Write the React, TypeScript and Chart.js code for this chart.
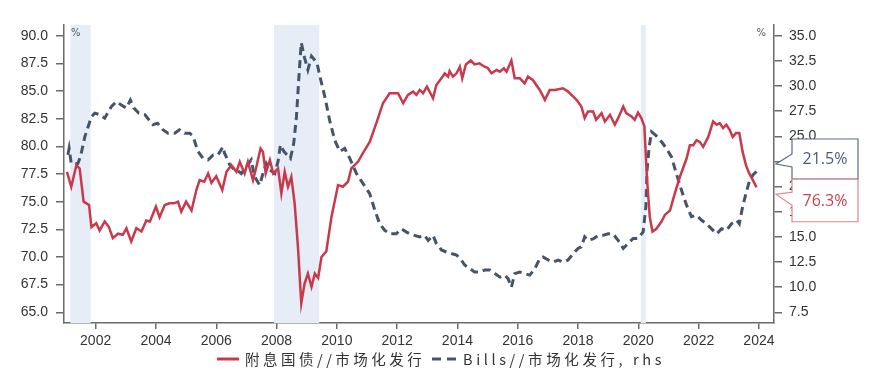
import { useEffect, useRef } from 'react';
import { Chart, registerables } from 'chart.js';

Chart.register(...registerables);

// ---- data (decimal years) ----
const redYears = [
  2001.05, 2001.19, 2001.36, 2001.47, 2001.6, 2001.78, 2001.86, 2002.02, 2002.13, 2002.3, 2002.44, 2002.57, 2002.74, 2002.9,
  2003.02, 2003.18, 2003.35, 2003.52, 2003.68, 2003.8, 2004.0, 2004.12, 2004.29, 2004.45, 2004.6, 2004.73, 2004.84,
  2005.0, 2005.18, 2005.34, 2005.45, 2005.6, 2005.73, 2005.84, 2006.0, 2006.2, 2006.34, 2006.5, 2006.67, 2006.78, 2006.94,
  2007.05, 2007.22, 2007.33, 2007.47, 2007.55, 2007.64, 2007.78, 2007.89, 2008.05, 2008.16, 2008.27, 2008.38, 2008.49,
  2008.6, 2008.71, 2008.82, 2008.93, 2009.04, 2009.16, 2009.27, 2009.38, 2009.49, 2009.65, 2009.82, 2010.04, 2010.2,
  2010.37, 2010.48, 2010.7, 2010.87, 2011.09, 2011.31, 2011.53, 2011.75, 2012.03, 2012.2, 2012.36, 2012.53, 2012.64,
  2012.75, 2012.86, 2012.99, 2013.19, 2013.3, 2013.47, 2013.58, 2013.69, 2013.74, 2013.85, 2013.97, 2014.08, 2014.16,
  2014.28, 2014.44, 2014.57, 2014.73, 2014.9, 2015.0, 2015.13, 2015.3, 2015.41, 2015.54, 2015.63, 2015.79, 2015.9,
  2016.07, 2016.23, 2016.34, 2016.5, 2016.73, 2016.9, 2017.06, 2017.23, 2017.5, 2017.67, 2017.8, 2017.95, 2018.11,
  2018.22, 2018.33, 2018.5, 2018.6, 2018.78, 2018.89, 2019.06, 2019.22, 2019.33, 2019.5, 2019.6, 2019.77, 2019.88,
  2019.99, 2020.1, 2020.2, 2020.29, 2020.38, 2020.47, 2020.6, 2020.77, 2020.88, 2021.05, 2021.21, 2021.38, 2021.6,
  2021.71, 2021.82, 2021.93, 2022.04, 2022.15, 2022.32, 2022.48, 2022.6, 2022.7, 2022.81, 2022.92, 2023.03, 2023.13,
  2023.24, 2023.35, 2023.46, 2023.57, 2023.68, 2023.8, 2023.92,
];
const redValues = [
  77.7, 76.35, 78.3, 78.0, 75.0, 74.7, 72.7, 73.05, 72.4, 73.2, 72.7, 71.7, 72.1, 72.0,
  72.6, 71.4, 72.6, 72.3, 73.3, 73.2, 74.55, 73.6, 74.7, 74.85, 74.85, 75.0, 74.1,
  75.0, 74.2, 76.05, 76.95, 76.8, 77.55, 76.7, 77.3, 76.05, 77.7, 78.3, 77.7, 78.6, 77.55,
  78.6, 76.95, 78.15, 79.8, 79.5, 77.55, 78.75, 77.55, 78.0, 75.75, 77.7, 76.35, 77.25,
  74.85, 70.9, 65.8, 67.6, 68.5, 67.3, 68.5, 68.1, 70.0, 70.5, 73.6, 76.5, 76.35,
  76.8, 78.0, 78.6, 79.4, 80.4, 82.1, 83.9, 84.8, 84.8, 83.9, 84.65, 84.95, 84.65,
  85.1, 84.8, 85.4, 84.35, 85.55, 86.15, 86.6, 86.3, 86.8, 86.3, 86.6, 87.2, 86.15,
  87.4, 87.76, 87.4, 87.5, 87.2, 87.1, 86.6, 86.9, 86.75, 87.05, 86.75, 87.76, 86.15,
  86.15, 85.7, 86.3, 86.0, 85.1, 84.2, 85.1, 85.1, 85.25, 84.95, 84.6, 84.2, 83.6,
  82.55, 83.15, 83.15, 82.4, 83.0, 82.25, 82.85, 81.95, 82.55, 83.6, 83.0, 82.7, 82.4,
  83.05, 82.55, 81.8, 76.95, 73.6, 72.3, 72.55, 73.2, 73.8, 74.2, 75.75, 77.25, 78.9,
  80.1, 80.1, 80.55, 80.4, 79.95, 80.85, 82.25, 81.95, 82.1, 81.65, 81.95, 81.5, 80.85,
  81.2, 81.2, 79.5, 78.3, 77.55, 76.95, 76.3,
];

const billYears = [
  2001.08, 2001.12, 2001.19, 2001.41, 2001.5, 2001.64, 2001.75, 2001.86, 2001.97, 2002.13, 2002.3, 2002.52, 2002.69,
  2002.85, 2003.02, 2003.15, 2003.27, 2003.43, 2003.63, 2003.9, 2004.05, 2004.23, 2004.4, 2004.62, 2004.78, 2004.95,
  2005.12, 2005.23, 2005.39, 2005.56, 2005.73, 2005.9, 2006.06, 2006.22, 2006.28, 2006.45, 2006.61, 2006.75, 2006.83,
  2007.0, 2007.16, 2007.27, 2007.44, 2007.55, 2007.66, 2007.78, 2007.94, 2008.05, 2008.13, 2008.24, 2008.35, 2008.46,
  2008.57, 2008.66, 2008.75, 2008.82, 2008.93, 2009.04, 2009.16, 2009.34, 2009.45, 2009.6, 2009.76, 2009.93, 2010.1,
  2010.26, 2010.43, 2010.65, 2010.87, 2011.09, 2011.26, 2011.42, 2011.59, 2011.75, 2011.97, 2012.14, 2012.3, 2012.42,
  2012.58, 2012.75, 2012.91, 2013.03, 2013.19, 2013.3, 2013.47, 2013.63, 2013.8, 2013.97, 2014.13, 2014.24, 2014.41,
  2014.57, 2014.73, 2014.9, 2015.07, 2015.24, 2015.41, 2015.57, 2015.68, 2015.79, 2015.9, 2016.07, 2016.23, 2016.4,
  2016.57, 2016.73, 2016.84, 2017.01, 2017.18, 2017.34, 2017.5, 2017.67, 2017.84, 2018.0, 2018.11, 2018.22, 2018.33,
  2018.5, 2018.67, 2018.83, 2019.0, 2019.16, 2019.33, 2019.5, 2019.66, 2019.83, 2019.99, 2020.16, 2020.25, 2020.29,
  2020.36, 2020.44, 2020.58, 2020.77, 2020.93, 2021.1, 2021.26, 2021.43, 2021.6, 2021.76, 2021.93, 2022.1, 2022.26,
  2022.43, 2022.6, 2022.76, 2022.92, 2023.09, 2023.26, 2023.35, 2023.46, 2023.57, 2023.68, 2023.8, 2023.92,
];
const billValues = [
  23.15, 23.8, 22.3, 22.3, 23.0, 24.95, 25.95, 26.95, 27.3, 27.15, 26.8, 27.95, 28.45,
  28.1, 27.8, 28.6, 27.8, 27.3, 27.15, 26.15, 26.3, 25.65, 25.3, 25.3, 25.65, 25.3,
  25.3, 25.0, 23.5, 22.8, 22.65, 23.15, 23.15, 23.95, 23.3, 22.15, 21.65, 21.5, 21.3,
  22.0, 22.65, 21.0, 20.15, 21.3, 22.3, 21.65, 21.3, 22.5, 24.15, 23.5, 23.15, 22.8,
  24.3, 26.95, 31.3, 34.3, 32.8, 31.6, 32.95, 32.3, 30.8, 28.95, 26.6, 24.6, 23.5,
  23.8, 22.8, 21.3, 20.3, 19.3, 17.65, 16.3, 15.65, 15.3, 15.3, 15.8, 15.5, 15.3,
  15.15, 15.0, 15.15, 14.65, 15.15, 14.35, 13.7, 13.5, 13.35, 13.2, 12.7, 12.2, 11.85,
  11.5, 11.5, 11.7, 11.7, 11.35, 11.0, 11.2, 10.85, 10.0, 11.35, 11.5, 11.35, 11.2,
  11.85, 12.85, 13.0, 12.7, 12.5, 12.7, 12.5, 12.7, 13.35, 13.85, 14.0, 15.0, 14.65,
  14.8, 15.15, 15.15, 15.3, 15.3, 14.65, 13.85, 14.35, 14.85, 14.85, 15.5, 18.0, 21.65,
  23.95, 25.45, 25.1, 24.45, 23.8, 22.95, 21.3, 19.65, 18.15, 17.0, 17.15, 16.65, 16.3,
  15.8, 15.3, 15.8, 15.65, 16.3, 16.65, 16.3, 18.0, 19.3, 20.5, 21.15, 21.5,
];

const xTickValues = [2002, 2004, 2006, 2008, 2010, 2012, 2014, 2016, 2018, 2020, 2022, 2024];
const leftTickValues = [65, 67.5, 70, 72.5, 75, 77.5, 80, 82.5, 85, 87.5, 90];
const rightTickValues = [7.5, 10, 12.5, 15, 17.5, 20, 22.5, 25, 27.5, 30, 32.5, 35];
// shaded periods [start, end] in decimal years
const bandStarts = [2001 + 2 / 12, 2007 + 11 / 12, 2020 + 1 / 12];
const bandEnds = [2001 + 10 / 12, 2009 + 5 / 12, 2020 + 3 / 12];
const seriesLabels = ['附息国债//市场化发行', 'Bills//市场化发行, rhs'];
const unitLabel = '%';

// ---- styles ----
const RED = '#C8394B';
const BLUE = '#44546A';
const AXIS = '#6b6b6b';
const TICK_COLOR = '#333333';
const BAND = '#E6EDF7';
const TICK_FONT = { family: '"Liberation Sans", Arial, sans-serif', size: 14 };

const bandsPlugin = {
  id: 'bands',
  beforeDatasetsDraw(chart: any) {
    const { ctx, chartArea } = chart;
    const xs = chart.scales.x;
    ctx.save();
    ctx.fillStyle = BAND;
    bandStarts.forEach((s, i) => {
      const x0 = xs.getPixelForValue(s);
      const x1 = xs.getPixelForValue(bandEnds[i]);
      ctx.fillRect(x0, chartArea.top, x1 - x0, chartArea.bottom - chartArea.top);
    });
    ctx.restore();
  },
};

function callout(ctx: any, left: number, right: number, top: number, bottom: number, nTop: number, tipX: number, tipY: number, nBot: number, stroke: string, textColor: string, text: string) {
  ctx.beginPath();
  ctx.moveTo(left, top);
  ctx.lineTo(right, top);
  ctx.lineTo(right, bottom);
  ctx.lineTo(left, bottom);
  ctx.lineTo(left, nBot);
  ctx.lineTo(tipX, tipY);
  ctx.lineTo(left, nTop);
  ctx.closePath();
  ctx.fillStyle = '#ffffff';
  ctx.fill();
  ctx.strokeStyle = stroke;
  ctx.lineWidth = 1.2;
  ctx.stroke();
  ctx.fillStyle = textColor;
  ctx.font = '16px "Open Sans", "DejaVu Sans", sans-serif';
  ctx.textAlign = 'center';
  ctx.textBaseline = 'middle';
  ctx.fillText(text, (left + right) / 2, (top + bottom) / 2 + 0.5);
}

const overlayPlugin = {
  id: 'overlay',
  afterDraw(chart: any) {
    const { ctx, chartArea } = chart;
    const yL = chart.scales.y;
    const yR = chart.scales.y1;
    ctx.save();

    // unit labels
    ctx.fillStyle = '#555';
    ctx.font = '10px "DejaVu Sans", sans-serif';
    ctx.textBaseline = 'middle';
    ctx.textAlign = 'left';
    ctx.fillText(unitLabel, chartArea.left + 7, chartArea.top + 8);
    ctx.textAlign = 'right';
    ctx.fillText(unitLabel, chartArea.right - 8, chartArea.top + 8);

    // callouts
    const lastRed = redValues[redValues.length - 1];
    const lastBill = billValues[billValues.length - 1];
    const left = chartArea.right + 18;
    const right = chartArea.right + 84;
    const tipX = chartArea.right + 2;
    const tb = yR.getPixelForValue(lastBill) - 7.5;
    const tr = yL.getPixelForValue(lastRed) + 7;
    callout(ctx, left, right, tb - 25, tb + 15, tb - 10, tipX, tb, tb + 3, '#5d6b87', '#4a5a78', lastBill.toFixed(1) + '%');
    callout(ctx, left, right, tr - 15, tr + 27.5, tr - 2, tipX, tr, tr + 11, '#e0848f', '#c8414f', lastRed.toFixed(1) + '%');

    // legend
    const ly = 359;
    ctx.setLineDash([]);
    ctx.strokeStyle = RED;
    ctx.lineWidth = 3;
    ctx.beginPath();
    ctx.moveTo(217, ly);
    ctx.lineTo(239, ly);
    ctx.stroke();
    ctx.strokeStyle = BLUE;
    ctx.setLineDash([9, 6]);
    ctx.beginPath();
    ctx.moveTo(432, ly);
    ctx.lineTo(457, ly);
    ctx.stroke();
    ctx.setLineDash([]);
    ctx.fillStyle = '#333';
    ctx.font = '14.5px "Noto Sans CJK SC", sans-serif';
    ctx.textAlign = 'left';
    ctx.textBaseline = 'middle';
    try { (ctx as any).letterSpacing = '3.5px'; } catch (e) {}
    ctx.fillText(seriesLabels[0], 245, ly);
    try { (ctx as any).letterSpacing = '3.6px'; } catch (e) {}
    ctx.fillText(seriesLabels[1], 463, ly);
    try { (ctx as any).letterSpacing = '0px'; } catch (e) {}
    ctx.restore();
  },
};

export default function App() {
  const ref = useRef<HTMLCanvasElement>(null);
  useEffect(() => {
    document.body.style.margin = '0';
    const axisCommon = (tickVals: number[], fmt: (v: number) => string, padding: number, tickLength: number) => ({
      afterBuildTicks: (s: any) => { s.ticks = tickVals.map((v) => ({ value: v })); },
      ticks: { callback: (v: any) => fmt(Number(v)), font: TICK_FONT, color: TICK_COLOR, padding, autoSkip: false, maxRotation: 0 },
      grid: { drawOnChartArea: false, drawTicks: true, tickLength, color: AXIS, lineWidth: 1.5 },
      border: { display: true, color: AXIS, width: 1.5 },
    });
    const chart = new Chart(ref.current as HTMLCanvasElement, {
      type: 'line',
      data: {
        datasets: [
          {
            label: seriesLabels[0],
            data: redYears.map((x, i) => ({ x, y: redValues[i] })),
            borderColor: RED,
            backgroundColor: RED,
            borderWidth: 2.5,
            pointRadius: 0,
            tension: 0,
            yAxisID: 'y',
          },
          {
            label: seriesLabels[1],
            data: billYears.map((x, i) => ({ x, y: billValues[i] })),
            borderColor: BLUE,
            backgroundColor: BLUE,
            borderWidth: 3,
            borderDash: [8, 5],
            pointRadius: 0,
            tension: 0,
            yAxisID: 'y1',
          },
        ],
      },
      options: {
        animation: false,
        responsive: false,
        layout: { padding: { top: 25, left: 0, right: 0, bottom: 0 } },
        plugins: { legend: { display: false }, tooltip: { enabled: false } },
        scales: {
          x: {
            type: 'linear',
            min: 2000.95,
            max: 2024.5,
            afterFit: (s: any) => { s.height = 62; },
            ...axisCommon(xTickValues, (v) => String(v), 4, 6),
          },
          y: {
            type: 'linear',
            position: 'left',
            min: 64.03,
            max: 90.97,
            afterFit: (s: any) => { s.width = 64; },
            ...axisCommon(leftTickValues, (v) => v.toFixed(1), 8, 8),
          },
          y1: {
            type: 'linear',
            position: 'right',
            min: 6.44,
            max: 36.06,
            afterFit: (s: any) => { s.width = 96; },
            ...axisCommon(rightTickValues, (v) => v.toFixed(1), 7, 8),
          },
        },
      } as any,
      plugins: [bandsPlugin, overlayPlugin],
    });
    return () => chart.destroy();
  }, []);
  return <canvas ref={ref} width={870} height={385} style={{ display: 'block' }} />;
}
